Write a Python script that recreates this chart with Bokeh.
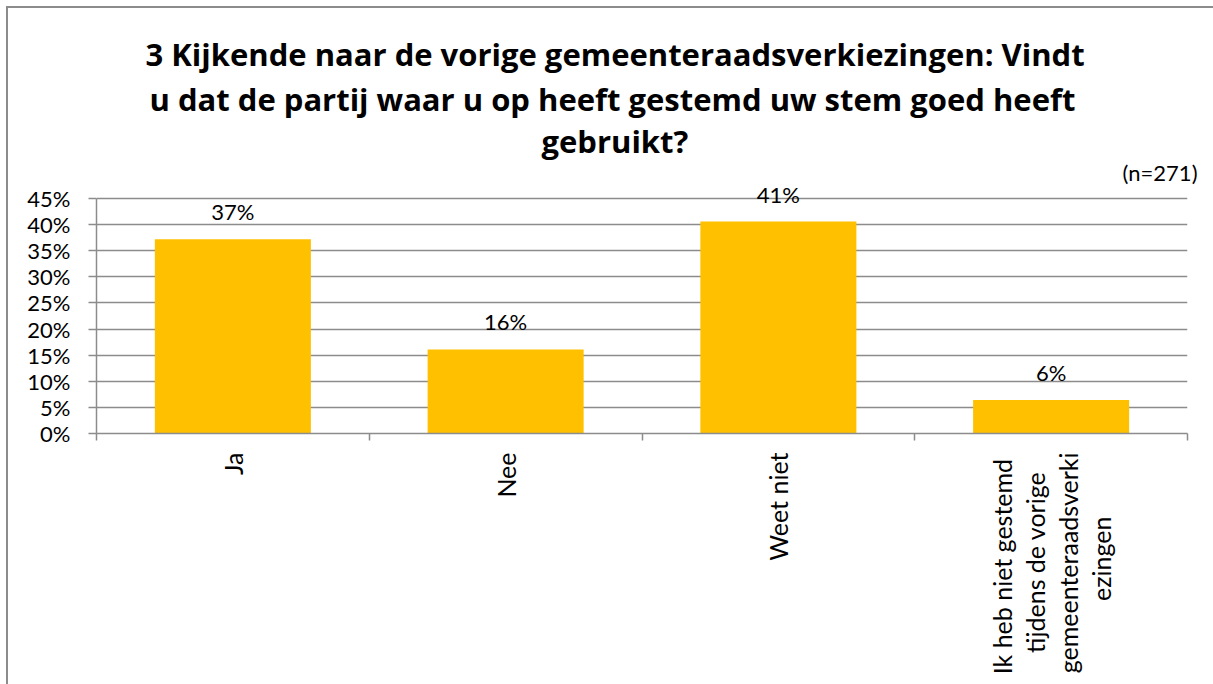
import math
from bokeh.plotting import figure
from bokeh.models import (Range1d, LinearAxis, FixedTicker, LabelSet, Title,
                          ColumnDataSource, NumeralTickFormatter, Grid)
from bokeh.embed import file_html
from bokeh.resources import INLINE
from bokeh.core.properties import value

# ---- data ----
categories = ["Ja", "Nee", "Weet niet",
              "Ik heb niet gestemd\ntijdens de vorige\ngemeenteraadsverki\nezingen"]
values = [0.372, 0.161, 0.406, 0.064]
value_labels = ["37%", "16%", "41%", "6%"]
y_ticks = [0.0, 0.05, 0.10, 0.15, 0.20, 0.25, 0.30, 0.35, 0.40, 0.45]
title_lines = ["3 Kijkende naar de vorige gemeenteraadsverkiezingen: Vindt",
               "u dat de partij waar u op heeft gestemd uw stem goed heeft",
               "gebruikt?"]
n_text = "(n=271)"

FONT = "Lato"
TITLE_FONT = "Open Sans"
GRID = "#8c8c8c"
BAR = "#FFC000"

centers = [i + 0.5 for i in range(len(categories))]
bounds = list(range(len(categories) + 1))

# rotated multi-line tick labels are end-aligned by Bokeh; pad shorter lines
# with no-break spaces so that they look centred
PAD = {"Ik heb niet gestemd": 1, "tijdens de vorige": 3, "ezingen": 10}


def centred(label):
    return "\n".join(l + "\u00a0" * PAD.get(l, 0) for l in label.split("\n"))


p = figure(width=1213, height=684,
           x_range=Range1d(0, len(categories)), y_range=Range1d(0, 0.475),
           output_backend="svg", toolbar_location=None,
           x_axis_location=None, y_axis_location=None,
           min_border_left=96, min_border_right=26,
           min_border_top=185, min_border_bottom=251)
p.title = None
p.outline_line_color = None
p.background_fill_color = "white"
p.border_fill_color = None
p.center = [r for r in p.center if not isinstance(r, Grid)]
p.styles = {
    "background-color": "white",
    "background-image": "linear-gradient(#8c8c8c, #8c8c8c), linear-gradient(#8c8c8c, #8c8c8c)",
    "background-size": "2px 100%, 100% 2px",
    "background-position": "6px 6px, 6px 6px",
    "background-repeat": "no-repeat",
}

# y axis
yaxis = LinearAxis(ticker=FixedTicker(ticks=y_ticks, minor_ticks=[]),
                   formatter=NumeralTickFormatter(format="0%"),
                   bounds=(y_ticks[0], y_ticks[-1]))
yaxis.axis_line_color = GRID
yaxis.axis_line_width = 1.5
yaxis.major_tick_line_color = GRID
yaxis.major_tick_line_width = 1.5
yaxis.major_tick_out = 8
yaxis.major_tick_in = 0
yaxis.minor_tick_line_color = None
yaxis.major_label_standoff = 18
yaxis.major_label_text_font = FONT
yaxis.major_label_text_font_size = "22px"
yaxis.major_label_text_color = "black"
p.add_layout(yaxis, "left")

# x axis
xaxis = LinearAxis(ticker=FixedTicker(ticks=centers, minor_ticks=bounds),
                   major_label_overrides={c: centred(lab) for c, lab in zip(centers, categories)})
xaxis.axis_line_color = GRID
xaxis.axis_line_width = 1.5
xaxis.major_tick_line_color = None
xaxis.major_tick_out = 0
xaxis.major_tick_in = 0
xaxis.minor_tick_line_color = GRID
xaxis.minor_tick_line_width = 1.5
xaxis.minor_tick_out = 7
xaxis.minor_tick_in = 0
xaxis.major_label_orientation = math.pi / 2
xaxis.major_label_standoff = 12
xaxis.major_label_text_font = FONT
xaxis.major_label_text_font_size = "25px"
xaxis.major_label_text_line_height = 1.1
xaxis.major_label_text_color = "black"
p.add_layout(xaxis, "below")

p.add_layout(Grid(dimension=1, ticker=yaxis.ticker, grid_line_color=GRID,
                  grid_line_width=1.5))

# bars
src = ColumnDataSource(dict(x=centers, top=values, label=value_labels))
p.vbar(x="x", top="top", bottom=0, width=0.572, source=src,
       fill_color=BAR, line_color=None)

p.add_layout(LabelSet(x="x", y="top", text="label", source=src,
                      text_align="center", text_baseline="alphabetic",
                      y_offset=19, text_font=value(FONT),
                      text_font_size="22px", text_color="black"))

# titles (first added = nearest to the plot area)
p.add_layout(Title(text=n_text, align="right", offset=-10, standoff=0,
                   text_font=FONT, text_font_style="normal", text_font_size="22px",
                   text_line_height=1.0, text_color="black"), "above")
TITLE_OFFSETS = [49, 53, 445]
TITLE_STANDOFFS = [-2, 5, -10]
for line, off, so in reversed(list(zip(title_lines, TITLE_OFFSETS, TITLE_STANDOFFS))):
    p.add_layout(Title(text=line, align="left", offset=off, standoff=so,
                       text_font=TITLE_FONT, text_font_style="bold",
                       text_font_size="31px", text_line_height=1.0,
                       text_color="black"), "above")

open("out.html", "w").write(file_html(p, INLINE))
